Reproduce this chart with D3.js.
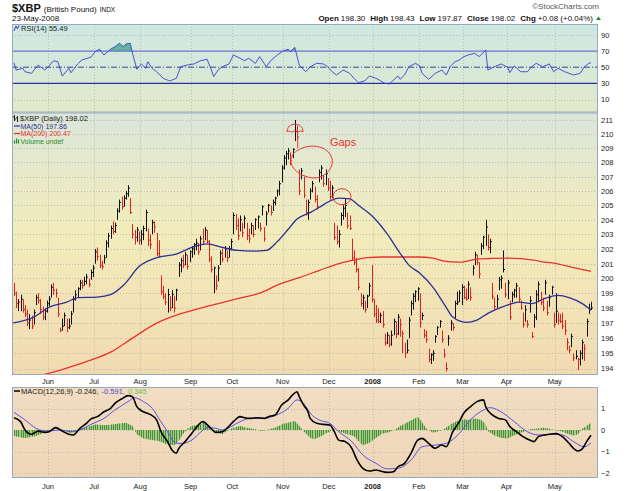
<!DOCTYPE html>
<html>
<head>
<meta charset="utf-8">
<script src="https://cdnjs.cloudflare.com/ajax/libs/d3/7.8.5/d3.min.js"></script>
<style>
  body { margin: 0; background: #fff; }
  svg { display: block; }
  text { font-family: "Liberation Sans", Arial, sans-serif; }
</style>
</head>
<body>
<div id="chart"></div>
<script>
const W = 625, H = 491;

// trading calendar
const firstDay = "2007-05-09", lastDay = "2008-05-23";
const holidays = ["2007-05-28","2007-07-04","2007-09-03","2007-11-22","2007-12-25",
                  "2008-01-01","2008-01-21","2008-02-18","2008-03-21"];

// daily bars
const highs = [
199.7,199.1,198.6,198.9,198.6,198.2,197.9,197.6,197.5,197.9,
198.9,199.0,198.6,198.1,198.0,198.5,198.8,199.6,199.7,199.3,
198.7,196.7,197.3,197.7,197.3,197.3,197.8,198.8,199.2,199.4,
199.9,199.9,200.1,200.3,200.0,200.6,200.9,202.0,202.1,201.6,
201.2,201.6,202.6,203.1,203.6,203.9,203.8,204.8,205.4,205.6,
205.7,206.0,206.4,205.5,203.7,203.3,203.5,203.2,203.3,203.6,
204.7,203.4,203.0,204.0,203.9,203.1,202.6,200.2,199.5,199.0,
199.3,198.8,199.2,198.8,199.3,201.1,201.4,201.6,201.8,201.6,
201.9,202.2,202.4,202.7,202.4,202.9,203.4,203.5,203.3,202.6,
201.5,200.8,200.2,200.9,201.9,202.0,202.2,201.9,202.2,202.7,
204.5,204.4,204.1,204.3,203.8,204.3,203.8,203.4,203.8,203.6,
204.1,204.3,203.8,205.0,203.5,204.6,205.1,205.0,205.4,205.6,
206.1,206.7,207.8,208.5,208.8,209.0,208.7,209.0,211.0,210.6,
207.5,207.6,207.0,205.4,205.4,206.2,206.7,206.3,205.7,207.5,
207.8,207.1,207.5,206.9,206.7,206.4,203.8,203.6,203.3,204.5,
205.0,205.5,204.5,204.3,202.7,201.9,201.4,200.7,199.0,198.9,
198.5,198.9,199.7,200.9,198.6,198.2,198.0,197.7,197.8,196.3,
196.4,196.2,196.5,197.3,197.1,197.6,197.3,196.5,195.7,195.9,
197.4,198.5,199.0,199.2,199.4,199.0,197.7,196.6,196.5,195.3,
195.0,195.2,196.2,196.8,197.2,196.5,195.3,194.4,196.2,197.2,
197.0,198.5,199.1,199.2,199.6,199.5,199.3,199.8,199.4,200.9,
201.8,201.6,201.1,202.4,202.9,204.0,203.0,202.7,199.7,198.7,
198.9,200.1,200.2,201.9,199.7,199.9,198.5,199.1,199.3,199.7,
199.4,198.5,197.7,198.2,197.2,198.8,196.4,197.6,199.2,199.8,
199.1,198.7,199.9,198.5,198.9,199.5,
197.7,199.0,197.7,197.6,197.7,197.2,196.0,195.5,196.3,195.0,
195.2,194.7,195.2,195.9,195.6,197.3,198.3,198.43];
const lows = [
198.8,198.0,197.8,197.8,197.7,197.4,196.8,196.6,196.6,196.9,
198.2,198.3,197.6,197.2,197.2,197.7,198.1,198.7,198.9,198.7,
197.4,196.4,196.5,196.8,196.4,196.6,196.9,197.7,198.5,198.7,
199.2,199.3,199.5,199.6,199.4,199.9,200.1,201.0,201.2,200.7,
200.6,201.0,201.4,202.1,202.7,203.0,203.1,204.0,204.5,204.7,
204.9,205.4,205.6,204.4,202.7,202.3,202.5,202.3,202.3,202.6,
203.2,202.2,202.0,203.0,203.1,201.5,201.4,198.9,198.6,198.2,
197.7,197.8,198.0,197.7,198.5,200.1,200.4,200.7,200.9,200.6,
201.1,201.4,201.6,201.9,201.6,201.9,202.3,202.6,202.4,201.1,
200.4,199.0,199.2,199.8,200.9,201.1,201.4,201.1,201.4,201.9,
203.0,203.3,202.6,203.2,202.8,203.4,202.6,202.4,203.0,202.8,
203.3,203.4,203.2,204.3,202.5,203.6,204.5,204.3,204.6,205.0,
205.6,205.7,206.6,207.5,207.8,208.2,207.8,208.3,209.5,209.6,
205.7,206.8,205.5,204.3,204.0,205.4,205.9,205.2,204.7,206.6,
206.8,206.3,206.4,206.0,205.4,205.5,202.6,202.3,202.1,203.6,
204.0,204.2,203.4,203.3,201.2,200.9,200.4,199.2,198.1,197.9,
197.7,198.0,198.8,198.4,197.4,197.0,197.0,197.0,196.7,195.5,
195.6,195.4,195.5,196.2,196.0,196.2,196.1,195.0,194.7,195.0,
196.0,197.5,197.9,198.4,198.5,196.7,197.2,196.0,195.7,194.4,
194.3,194.5,195.7,196.2,196.7,195.7,194.7,193.8,195.5,196.5,
196.5,197.3,198.2,198.4,198.2,198.6,198.5,198.6,198.5,200.2,
200.9,200.9,200.0,201.6,202.0,202.2,201.9,201.7,198.6,197.9,
198.0,199.2,199.3,200.4,198.7,198.6,197.2,198.4,198.7,198.7,
198.4,197.9,196.7,197.1,196.7,197.7,196.0,196.7,197.2,198.4,
198.2,197.8,198.9,197.5,198.1,198.9,
196.7,197.0,196.9,197.0,196.6,196.2,195.2,195.0,195.4,194.5,
194.6,193.9,194.2,194.6,194.5,196.1,197.6,197.87];
const closes = [
199.0,198.3,198.4,198.6,197.9,197.6,197.0,197.2,196.8,197.7,
198.7,198.5,197.9,197.4,197.8,198.3,198.6,199.4,199.2,199.0,
197.6,196.5,196.8,197.5,196.7,196.8,197.6,198.6,198.9,199.3,
199.7,199.5,199.8,200.1,199.6,200.4,200.7,201.8,201.5,200.9,
200.8,201.4,202.4,202.9,203.4,203.2,203.6,204.6,205.2,204.9,
205.5,205.8,206.2,204.5,203.0,202.8,203.3,202.6,203.0,203.4,
204.5,202.6,202.3,203.8,203.5,201.7,201.5,199.1,198.8,198.4,
198.9,198.0,198.9,198.0,199.2,200.9,201.2,200.9,201.6,200.8,
201.8,202.0,202.3,202.4,201.8,202.7,202.5,203.3,202.5,201.3,
200.6,200.7,199.5,200.7,201.7,201.3,202.0,201.4,202.0,202.5,
204.3,203.6,202.9,204.0,203.1,204.1,202.9,202.7,203.6,203.0,
204.0,204.2,203.4,204.9,202.7,204.4,205.0,204.5,205.2,205.5,
206.0,206.5,207.6,208.3,208.6,208.8,208.1,208.9,210.2,209.8,
206.0,207.4,205.7,204.5,205.2,206.0,206.5,205.4,204.9,207.3,
207.6,206.5,207.2,206.2,205.6,206.2,202.8,202.5,203.0,204.3,
204.8,205.0,203.6,203.4,201.4,201.1,200.6,199.4,198.3,198.7,
197.9,198.8,199.5,198.6,197.6,197.2,197.1,197.5,196.9,195.7,
196.2,195.6,196.2,197.1,196.3,197.4,196.9,196.3,195.0,195.2,
197.2,198.3,198.8,199.1,199.3,197.0,197.5,196.2,195.9,194.6,
194.9,195.0,196.1,196.7,197.1,195.9,194.9,194.0,196.0,197.0,
196.7,198.3,198.4,199.0,199.4,198.7,198.6,199.6,198.7,200.7,
201.6,201.1,200.3,202.2,202.8,203.5,202.1,202.5,198.8,198.1,
198.6,199.9,200.0,200.6,198.9,199.7,197.4,198.9,199.2,199.5,
198.6,198.0,196.9,197.9,196.9,198.5,196.1,197.4,198.9,199.6,
198.4,198.0,199.7,197.7,198.7,199.4,
196.9,197.8,197.2,197.1,196.8,196.5,195.7,195.2,196.1,194.7,
194.8,194.6,195.0,195.7,195.3,197.1,197.94,198.02];
const lastOpen = 198.30;

// moving averages (sampled along the curves, day index -> value)
const ma50Day = [-1,9,16,24,29,38,44,50,57,66,74,81,88,95,102,109,115,120,125,129,135,139,144,148,153,157,163,170,176,180,185,191,197,200,206,211,216,222,227,230,236,242,248,253,259,263];
const ma50Val = [197.0,197.4,198.06,198.4,198.7,198.74,198.9,199.55,200.8,201.45,201.65,202.1,202.35,202.1,201.9,201.85,201.9,202.5,203.35,204.05,204.5,204.85,205.3,205.5,205.45,205.0,204.3,203.05,201.7,200.9,200.35,199.4,198.05,197.4,197.05,197.2,197.65,198.05,198.3,198.4,198.3,198.65,198.85,198.7,198.3,197.86];
const ma200Day = [-1,10,24,35,44,54,65,74,85,94,103,112,121,130,139,149,155,161,168,176,184,191,196,203,211,217,225,237,242,246,254,263];
const ma200Val = [192.98,193.44,194.03,194.55,195.08,196.0,197.0,197.53,198.0,198.34,198.67,199.0,199.61,200.05,200.53,201.04,201.24,201.41,201.45,201.45,201.45,201.38,201.17,201.1,201.31,201.35,201.38,201.24,201.1,201.04,200.77,200.47];

// RSI(14)
const rsiDay = [0,1,4,5,8,11,14,16,18,20,22,25,26,29,31,35,37,39,41,44,46,48,50,51,53,54,56,58,60,61,63,65,68,71,74,76,79,82,85,88,90,91,93,95,98,100,103,105,107,110,112,115,117,120,123,125,126,128,130,133,135,138,141,143,145,147,150,153,155,157,160,162,165,167,169,171,173,175,176,178,180,183,185,186,189,192,195,197,199,201,203,205,207,210,212,215,216,219,222,225,226,228,231,234,236,238,241,244,246,248,251,253,255,258,260,262,263];
const rsiVal = [55.6,46.5,48.6,44.4,42.4,52.7,46.5,51.5,58,56.8,39,48.6,43.2,54,59,62.3,69.2,72.2,65.1,72.2,75.4,79.6,75.4,78.7,79.6,67.2,47.4,54,48.6,56.8,48.6,44.4,36.3,32.9,36.3,50.6,52.7,54,58,59.8,46.5,38.3,46.5,50.6,54,65.1,61,58,61,54.8,63,50.6,58,65.1,70.4,72.2,69.2,74.6,52.7,44.4,50.6,54.8,54,50.6,44.4,40.3,46.5,42.4,36.3,30.8,33.3,39.1,36.3,33.3,30.1,29.2,34.1,39.1,35,40.3,50.6,54.8,51.5,42.4,35,42.4,46.5,40.3,51.5,56.8,59,63,65.1,67.2,63,71.3,46.5,50.6,54,49.9,43.2,51.5,44.4,44.4,50.6,54.8,50.6,54,44.4,48.6,44.4,42.4,40.3,42.4,50.6,54.8,55.49];

// MACD(12,26,9)
const macdDay = [0,3,5,8,11,14,16,19,22,25,27,30,33,35,38,41,44,46,49,52,54,56,59,62,65,67,70,72,74,75,78,81,84,86,89,92,95,97,100,103,105,108,111,114,116,119,122,125,127,129,130,132,134,135,138,141,144,146,148,151,154,156,159,162,165,167,170,173,175,178,181,184,186,189,192,195,197,200,203,205,208,211,214,215,218,221,224,226,229,232,235,237,239,242,244,247,250,253,255,257,259,261,263];
const macdVal = [0.57,0.39,0,-0.2,-0.05,-0.11,-0.08,0.11,-0.05,-0.2,-0.23,0.08,0.31,0.51,0.62,0.85,1.01,1.24,1.44,1.6,1.55,1.08,0.85,0.73,0.47,-0.08,-0.54,-0.93,-1.08,-0.88,-0.54,-0.16,0.23,0.39,0.16,-0.11,-0.08,0.08,0.39,0.62,0.57,0.54,0.57,0.54,0.62,0.7,1.16,1.4,1.63,1.78,1.55,1.16,0.85,0.54,0.31,0.26,0.23,-0.08,-0.47,-0.54,-0.85,-1.32,-1.78,-1.91,-1.86,-1.91,-1.97,-1.94,-1.71,-1.55,-1.08,-0.47,-0.39,-0.62,-0.85,-0.7,-0.78,-0.08,0.39,0.78,1.08,1.32,1.4,1.08,0.7,0.54,0.47,0.16,-0.08,-0.31,-0.47,-0.54,-0.31,-0.23,-0.2,-0.16,-0.31,-0.62,-0.85,-0.98,-0.88,-0.54,-0.246];
const signalDay = [0,5,10,15,21,26,30,35,41,46,52,55,59,63,66,70,74,77,81,85,88,92,95,99,103,108,114,119,125,129,132,135,139,144,148,154,159,165,170,175,181,186,192,197,203,208,214,217,223,228,234,239,245,250,255,260,263];
const signalVal = [0.82,0.47,0.08,-0.05,0,-0.08,0,0.26,0.54,0.93,1.32,1.5,1.32,1.01,0.54,-0.08,-0.62,-0.62,-0.47,-0.11,0.11,0.08,0,0.16,0.39,0.54,0.54,0.67,1.01,1.4,1.24,0.78,0.47,0.31,-0.08,-0.54,-1.16,-1.55,-1.81,-1.78,-1.4,-0.78,-0.7,-0.62,-0.16,0.47,0.93,1.04,0.78,0.39,-0.08,-0.23,-0.2,-0.23,-0.54,-0.78,-0.591];
const histDay = [0,5,10,14,17,21,25,28,30,34,37,41,45,48,51,54,56,59,63,66,70,73,75,77,79,81,85,87,89,92,95,97,100,103,106,110,113,115,119,122,125,128,130,132,135,137,140,143,146,149,152,155,157,159,162,165,168,171,174,176,179,182,184,185,188,191,194,196,199,202,205,207,210,213,215,216,219,222,225,227,230,233,235,238,241,244,246,249,252,255,257,259,262,263];
const histVal = [-0.28,-0.37,-0.28,-0.12,-0.05,0.03,-0.12,-0.1,0.06,0.15,0.26,0.22,0.26,0.3,0.34,0.19,-0.2,-0.4,-0.47,-0.51,-0.67,-0.71,-0.51,-0.2,0.06,0.19,0.26,0.37,0.19,-0.12,-0.2,-0.05,0.11,0.19,0.11,0.03,-0.05,0,0.11,0.26,0.34,0.42,0.19,-0.05,-0.36,-0.43,-0.28,-0.12,0.03,-0.09,-0.2,-0.28,-0.51,-0.71,-0.59,-0.36,-0.16,-0.09,0.03,0.19,0.34,0.5,0.62,0.5,0.06,-0.12,-0.05,0.03,0.26,0.42,0.5,0.47,0.53,0.47,0.26,-0.05,-0.25,-0.36,-0.4,-0.28,-0.16,-0.05,0.03,0.06,0.11,0.06,0,-0.05,-0.16,-0.25,-0.2,0.06,0.26,0.345];

const priceTicks = d3.range(194, 212);
const rsiTicks = [90, 70, 50, 30, 10];
const macdTicks = [1, 0, -1, -2];

// ---------- layout ----------
const L = 12, R = 598;
const rsiTop = 24, rsiBot = 112.5, mainTop = 112.5, mainBot = 375, macdTop = 387, macdBot = 478;

const parse = d3.utcParse("%Y-%m-%d"), fmt = d3.utcFormat("%Y-%m-%d");
const days = d3.utcDay.range(parse(firstDay), d3.utcDay.offset(parse(lastDay), 1))
  .filter(d => d.getUTCDay() % 6 !== 0 && !holidays.includes(fmt(d)));
const n = closes.length;

const x = d3.scaleLinear().domain([0, n - 1]).range([14, 591]);
const yRsi = d3.scaleLinear().domain([0, 100]).range([107.6, 26.8]);
const yP = d3.scaleLog().domain([194, 211]).range([368.5, 120]);
const yM = d3.scaleLinear().domain([-2, 1]).range([473, 408.5]);

const months = [];
days.forEach((d, i) => {
  if (i > 0 && d.getUTCMonth() !== days[i - 1].getUTCMonth())
    months.push({ i, label: d.getUTCMonth() === 0 ? String(d.getUTCFullYear()) : d3.utcFormat("%b")(d), year: d.getUTCMonth() === 0 });
});

const svg = d3.select("#chart").append("svg").attr("width", W).attr("height", H);
const defs = svg.append("defs");

function grad(id, stops) {
  const g = defs.append("linearGradient").attr("id", id)
    .attr("x1", 0).attr("y1", 0).attr("x2", 0).attr("y2", 1);
  stops.forEach(s => g.append("stop").attr("offset", s[0]).attr("stop-color", s[1]));
}
grad("gRsi", [[0, "#cde8e2"], [0.6, "#d9e9d6"], [1, "#e3e9c9"]]);
grad("gMain", [[0, "#dbe6da"], [0.45, "#f2ecbb"], [1, "#f2dab0"]]);
grad("gMacd", [[0, "#f2ddc2"], [1, "#efd6b7"]]);

function clip(id, top, bot) {
  defs.append("clipPath").attr("id", id).append("rect")
    .attr("x", L).attr("y", top).attr("width", R - L).attr("height", bot - top);
}
clip("cRsi", rsiTop, rsiBot);
clip("cMain", mainTop, mainBot);
clip("cMacd", macdTop, macdBot);

[[rsiTop, rsiBot, "gRsi"], [mainTop, mainBot, "gMain"], [macdTop, macdBot, "gMacd"]].forEach(p => {
  svg.append("rect").attr("x", L).attr("y", p[0]).attr("width", R - L).attr("height", p[1] - p[0])
    .attr("fill", `url(#${p[2]})`);
});

// gridlines
function vgrid(top, bot) {
  svg.append("g").selectAll("line").data(months).join("line")
    .attr("x1", d => Math.round(x(d.i - 0.5)) + 0.5).attr("x2", d => Math.round(x(d.i - 0.5)) + 0.5)
    .attr("y1", top).attr("y2", bot)
    .attr("stroke", "#b9bcae").attr("stroke-dasharray", "1,2");
}
function hgrid(vals, scale) {
  svg.append("g").selectAll("line").data(vals).join("line")
    .attr("x1", L).attr("x2", R)
    .attr("y1", d => Math.round(scale(d)) + 0.5).attr("y2", d => Math.round(scale(d)) + 0.5)
    .attr("stroke", "#b9bcae").attr("stroke-dasharray", "1,2");
}
vgrid(rsiTop, rsiBot); vgrid(mainTop, mainBot); vgrid(macdTop, macdBot);
hgrid([90, 10], yRsi);
hgrid(priceTicks, yP);
hgrid(macdTicks, yM);

// ---------- RSI ----------
const rsiData = d3.zip(rsiDay, rsiVal);
const gR = svg.append("g").attr("clip-path", "url(#cRsi)");
defs.append("clipPath").attr("id", "cOver").append("rect")
  .attr("x", L).attr("y", rsiTop).attr("width", R - L).attr("height", yRsi(70) - rsiTop);
defs.append("clipPath").attr("id", "cUnder").append("rect")
  .attr("x", L).attr("y", yRsi(30)).attr("width", R - L).attr("height", rsiBot - yRsi(30));
gR.append("path").datum(rsiData).attr("clip-path", "url(#cOver)")
  .attr("fill", "#5fb59c")
  .attr("d", d3.area().x(d => x(d[0])).y0(yRsi(70)).y1(d => yRsi(d[1])));
gR.append("path").datum(rsiData).attr("clip-path", "url(#cUnder)")
  .attr("fill", "#5fb59c")
  .attr("d", d3.area().x(d => x(d[0])).y0(yRsi(30)).y1(d => yRsi(d[1])));
gR.append("line").attr("x1", L).attr("x2", R).attr("y1", yRsi(70)).attr("y2", yRsi(70))
  .attr("stroke", "#6f73c9").attr("stroke-width", 1.3);
gR.append("line").attr("x1", L).attr("x2", R).attr("y1", yRsi(30)).attr("y2", yRsi(30))
  .attr("stroke", "#2a2f9c").attr("stroke-width", 1.3);
gR.append("line").attr("x1", L).attr("x2", R).attr("y1", yRsi(50)).attr("y2", yRsi(50))
  .attr("stroke", "#3a3fa6").attr("stroke-dasharray", "6,2,1,2");
gR.append("path").datum(rsiData).attr("fill", "none").attr("stroke", "#3c3fd0").attr("stroke-width", 0.9)
  .attr("d", d3.line().x(d => x(d[0])).y(d => yRsi(d[1])));

// ---------- price bars ----------
const gB = svg.append("g").attr("clip-path", "url(#cMain)");
const barColor = i => (i > 0 && closes[i] >= closes[i - 1]) ? "#111" : "#e3201b";
const bx = i => Math.round(x(i)) + 0.5;
gB.selectAll("line.hl").data(d3.range(n)).join("line").attr("class", "hl")
  .attr("x1", bx).attr("x2", bx)
  .attr("y1", i => yP(highs[i])).attr("y2", i => yP(lows[i]))
  .attr("stroke", barColor).attr("stroke-width", 1);
gB.selectAll("line.cl").data(d3.range(n)).join("line").attr("class", "cl")
  .attr("x1", bx).attr("x2", i => bx(i) + 1.5)
  .attr("y1", i => yP(closes[i])).attr("y2", i => yP(closes[i]))
  .attr("stroke", barColor).attr("stroke-width", 1);

const maLine = d3.line().x(d => x(d[0])).y(d => yP(d[1])).curve(d3.curveMonotoneX);
gB.append("path").datum(d3.zip(ma200Day, ma200Val)).attr("fill", "none")
  .attr("stroke", "#e8322e").attr("stroke-width", 1.3).attr("d", maLine);
gB.append("path").datum(d3.zip(ma50Day, ma50Val)).attr("fill", "none")
  .attr("stroke", "#2c2f96").attr("stroke-width", 1.3).attr("d", maLine);

// annotations (hand-drawn marks on the original)
const red = "#e8362f";
const ann = svg.append("g").attr("fill", "none").attr("stroke", red).attr("stroke-width", 1);
{
  const cx = x(128.1), cy = yP(210.45);
  ann.append("path").attr("d",
    `M${cx - 8},${cy + 4} C${cx - 8},${cy - 6} ${cx + 8},${cy - 6} ${cx + 8},${cy + 4}` +
    ` C${cx + 5},${cy + 2} ${cx + 2},${cy + 6} ${cx},${cy + 3} C${cx - 3},${cy + 6} ${cx - 6},${cy + 2} ${cx - 8},${cy + 4}`);
  ann.append("line").attr("x1", x(129.3)).attr("x2", x(129.3)).attr("y1", yP(210.05)).attr("y2", yP(209.0));
  const ex = x(135.8), ey = yP(208.0);
  ann.append("path").attr("d",
    `M${ex - 14},${ey - 12} C${ex - 4},${ey - 19} ${ex + 16},${ey - 18} ${ex + 20},${ey - 4}` +
    ` C${ex + 23},${ey + 8} ${ex + 8},${ey + 20} ${ex - 6},${ey + 14}` +
    ` C${ex - 16},${ey + 11} ${ex - 24},${ey + 2} ${ex - 20},${ey - 6} C${ex - 18},${ey - 10} ${ex - 16},${ey - 11} ${ex - 14},${ey - 12}`);
  ann.append("ellipse").attr("cx", x(149.5)).attr("cy", yP(205.6)).attr("rx", 9).attr("ry", 8);
  svg.append("text").attr("x", x(144)).attr("y", yP(209.15)).attr("fill", red)
    .attr("font-size", 11).text("Gaps");
}

// ---------- MACD ----------
const gM = svg.append("g").attr("clip-path", "url(#cMacd)");
const histData = d3.zip(histDay, histVal);
const histArea = d3.area().x(d => x(d[0])).y0(yM(0)).y1(d => yM(d[1]));
defs.append("clipPath").attr("id", "cHist").append("path").datum(histData).attr("d", histArea);
gM.append("path").datum(histData).attr("fill", "#a2cd86").attr("d", histArea);
gM.append("g").attr("clip-path", "url(#cHist)").selectAll("line").data(d3.range(n)).join("line")
  .attr("x1", bx).attr("x2", bx).attr("y1", macdTop).attr("y2", macdBot)
  .attr("stroke", "#4f8c3a").attr("stroke-width", 1);
gM.append("path").datum(d3.zip(signalDay, signalVal)).attr("fill", "none")
  .attr("stroke", "#5b4fe0").attr("stroke-width", 1)
  .attr("d", d3.line().x(d => x(d[0])).y(d => yM(d[1])).curve(d3.curveMonotoneX));
gM.append("path").datum(d3.zip(macdDay, macdVal)).attr("fill", "none")
  .attr("stroke", "#000").attr("stroke-width", 1.6)
  .attr("d", d3.line().x(d => x(d[0])).y(d => yM(d[1])).curve(d3.curveMonotoneX));

// panel borders
[[rsiTop, rsiBot], [mainTop, mainBot], [macdTop, macdBot]].forEach(p => {
  svg.append("rect").attr("x", L + 0.5).attr("y", p[0] + 0.5).attr("width", R - L - 1).attr("height", p[1] - p[0] - 1)
    .attr("fill", "none").attr("stroke", "#98a9bc");
});

// ---------- axes ----------
function rightAxis(scale, vals, fmtFn) {
  const g = svg.append("g").attr("transform", `translate(${R + 1},0)`)
    .call(d3.axisRight(scale).tickValues(vals).tickSize(0).tickPadding(2).tickFormat(fmtFn));
  g.select(".domain").remove();
  g.selectAll("text").attr("font-size", 7.5).attr("fill", "#222").attr("font-family", "Liberation Sans, Arial, sans-serif");
}
rightAxis(yRsi, rsiTicks, d3.format("d"));
rightAxis(yP, priceTicks, d3.format("d"));
rightAxis(yM, macdTicks, d3.format("d"));

function monthAxis(yy) {
  svg.append("g").selectAll("text").data(months).join("text")
    .attr("x", d => x(d.i - 0.5)).attr("y", yy).attr("text-anchor", "middle")
    .attr("font-size", 7.5).attr("font-weight", d => d.year ? "bold" : "normal").attr("fill", "#222")
    .text(d => d.label);
}
monthAxis(mainBot + 9);
monthAxis(macdBot + 11);

// ---------- header & legends ----------
const t1 = svg.append("text").attr("x", L).attr("y", 12).attr("fill", "#111");
t1.append("tspan").attr("font-size", 11).attr("font-weight", "bold").text("$XBP");
t1.append("tspan").attr("font-size", 8).attr("dx", 3).text("(British Pound)");
t1.append("tspan").attr("font-size", 6.5).attr("dx", 3).text("INDX");
svg.append("text").attr("x", L).attr("y", 21).attr("font-size", 8).attr("fill", "#111").text("23-May-2008");
svg.append("text").attr("x", 599).attr("y", 9).attr("text-anchor", "end").attr("font-size", 8)
  .attr("fill", "#555").text("\u00A9StockCharts.com");

const q = svg.append("text").attr("x", 593).attr("y", 21).attr("text-anchor", "end").attr("font-size", 8).attr("fill", "#111");
const last = n - 1, chg = closes[last] - closes[last - 1];
[["Open", lastOpen.toFixed(2)], ["High", highs[last].toFixed(2)], ["Low", lows[last].toFixed(2)],
 ["Close", closes[last].toFixed(2)],
 ["Chg", `+${chg.toFixed(2)} (+${(chg / closes[last - 1] * 100).toFixed(2)}%)`]].forEach((p, k) => {
  q.append("tspan").attr("font-weight", "bold").attr("dx", k ? 5 : 0).text(p[0]);
  q.append("tspan").attr("dx", 2).text(p[1]);
});
svg.append("path").attr("d", "M596,20 L598.5,16.5 L601,20 Z").attr("fill", "#1e8a2e");

// RSI legend
svg.append("path").attr("d", "M14,31 L16,26 L17.5,29 L19,25.5").attr("fill", "none").attr("stroke", "#3c3fd0");
svg.append("text").attr("x", 21).attr("y", 31).attr("font-size", 7.5).attr("font-family", "DejaVu Sans Mono, monospace")
  .attr("fill", "#222").text("RSI(14) " + rsiVal[rsiVal.length - 1].toFixed(2));

// price legend
const lg = svg.append("g");
lg.append("path").attr("d", "M14.5,115 V121 M13,117 H14.5 M14.5,119 H16 M17.5,116 V122 M16,118 H17.5")
  .attr("stroke", "#222").attr("fill", "none");
lg.append("text").attr("x", 20).attr("y", 121).attr("font-size", 7.5).attr("font-family", "DejaVu Sans Mono, monospace")
  .attr("fill", "#222").text("$XBP (Daily) " + closes[last].toFixed(2));
const legRows = [
  { t: "MA(50) " + ma50Val[ma50Val.length - 1].toFixed(2), c: "#2c2f96" },
  { t: "MA(200) " + ma200Val[ma200Val.length - 1].toFixed(2), c: "#e8322e" },
  { t: "Volume undef", c: "#2a8a2a" }
];
legRows.forEach((r, k) => {
  const yy = 128.5 + k * 7.5;
  if (k < 2) lg.append("line").attr("x1", 14).attr("x2", 20).attr("y1", yy - 2.5).attr("y2", yy - 2.5).attr("stroke", r.c).attr("stroke-width", 1.2);
  else lg.append("path").attr("d", `M14.5,${yy} v-3 M16.5,${yy} v-5 M18.5,${yy} v-4`).attr("stroke", r.c).attr("stroke-width", 1.2);
  lg.append("text").attr("x", 20.5).attr("y", yy).attr("font-size", 7).attr("fill", r.c).text(r.t);
});

// MACD legend
svg.append("line").attr("x1", 14).attr("x2", 20).attr("y1", 391).attr("y2", 391).attr("stroke", "#000").attr("stroke-width", 1.5);
const ml = svg.append("text").attr("x", 21).attr("y", 393.5).attr("font-size", 7.5)
  .attr("font-family", "DejaVu Sans Mono, monospace");
ml.append("tspan").attr("fill", "#222").text(`MACD(12,26,9) ${macdVal[macdVal.length - 1].toFixed(3)},`);
ml.append("tspan").attr("fill", "#4b3fe0").attr("dx", 3).text(`${signalVal[signalVal.length - 1].toFixed(3)},`);
ml.append("tspan").attr("fill", "#6fbf4f").attr("dx", 3).text(histVal[histVal.length - 1].toFixed(3));
</script>
</body>
</html>
